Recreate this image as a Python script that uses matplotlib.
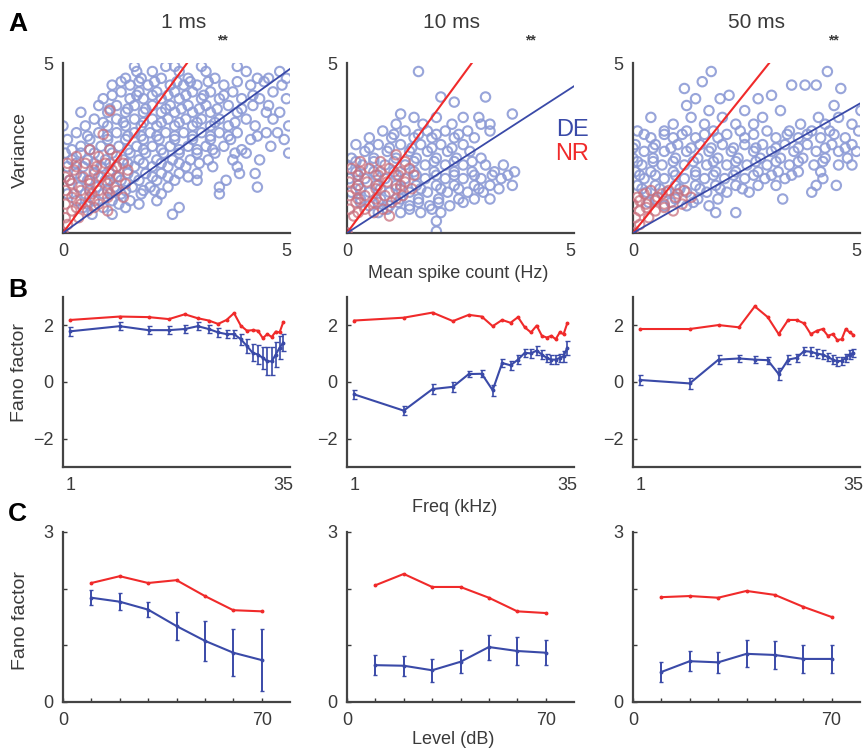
import matplotlib.pyplot as plt
import numpy as np

plt.rcParams["font.family"] = ["Liberation Sans", "DejaVu Sans"]

TXT = "#3a3a3a"
DE_COL = "#3a4aa8"
NR_COL = "#f02a2a"
DE_PT = "#8d9bd6"
NR_PT = "#c9707e"

# ---------- row A: variance vs mean spike count (by rows) ----------
a1_de_rows = [
    (4.9, [1.6, 2.3, 2.5, 3.1, 3.9]),
    (4.75, [1.65, 2.0, 2.6, 3.2, 4.1, 4.85]),
    (4.55, [1.4, 1.75, 2.2, 2.8, 3.4, 4.35, 4.6, 5.0]),
    (4.45, [1.3, 1.7, 2.05, 2.55, 2.85, 3.25, 3.9, 4.5]),
    (4.35, [1.1, 1.5, 1.9, 2.4, 2.7, 3.0, 3.6, 4.2, 4.9]),
    (4.15, [1.3, 1.7, 2.1, 2.5, 2.9, 3.3, 3.8, 4.7]),
    (4.05, [1.1, 1.65, 2.0, 2.35, 2.75, 3.15, 3.6, 4.25]),
    (3.95, [0.9, 1.5, 1.8, 2.2, 2.6, 3.1, 3.5, 4.0, 4.4, 5.0]),
    (3.75, [0.8, 1.2, 1.6, 2.0, 2.4, 2.8, 3.2, 3.7, 4.25, 4.6]),
    (3.65, [1.05, 1.45, 1.85, 2.3, 2.65, 3.05, 3.45, 4.0]),
    (3.55, [0.4, 1.0, 1.4, 1.8, 2.2, 2.5, 2.9, 3.3, 3.9, 4.55, 4.85]),
    (3.35, [0.7, 1.2, 1.6, 2.0, 2.35, 2.75, 3.1, 3.5, 4.1, 4.7]),
    (3.25, [0.9, 1.35, 1.8, 2.2, 2.6, 3.0, 3.4, 3.85]),
    (3.15, [0.0, 0.5, 1.0, 1.4, 1.75, 2.1, 2.5, 2.9, 3.3, 3.7, 4.3, 5.05]),
    (2.95, [0.3, 0.8, 1.2, 1.6, 1.95, 2.3, 2.7, 3.1, 3.5, 3.9, 4.55, 4.8]),
    (2.85, [0.55, 1.0, 1.45, 1.75, 2.1, 2.5, 2.9, 3.3, 3.7, 4.35]),
    (2.75, [0.1, 0.6, 1.0, 1.4, 1.8, 2.15, 2.5, 2.9, 3.3, 3.75, 4.2, 4.95]),
    (2.55, [0.4, 0.85, 1.25, 1.65, 2.0, 2.4, 2.8, 3.2, 3.6, 4.65]),
    (2.45, [0.2, 0.6, 1.05, 1.45, 1.8, 2.2, 2.6, 3.0, 3.35, 4.0]),
    (2.35, [0.05, 0.4, 0.7, 1.1, 1.5, 1.85, 2.25, 2.6, 3.0, 3.4, 3.85, 4.1, 5.05]),
    (2.15, [0.2, 0.55, 0.95, 1.35, 1.7, 2.1, 2.45, 2.85, 3.25, 3.8, 4.4]),
    (2.05, [0.3, 0.7, 1.05, 1.45, 1.8, 2.2, 2.6, 3.05]),
    (1.95, [0.1, 0.45, 0.85, 1.2, 1.6, 2.0, 2.35, 2.75, 3.35, 3.9]),
    (1.75, [0.3, 0.7, 1.05, 1.45, 1.85, 2.2, 2.6, 3.0, 3.95, 4.3]),
    (1.65, [0.4, 0.8, 1.2, 1.6, 2.0, 2.35, 2.8]),
    (1.55, [0.15, 0.55, 0.95, 1.3, 1.7, 2.1, 2.5, 3.0, 3.65]),
    (1.35, [0.35, 0.75, 1.15, 1.55, 1.95, 2.35, 3.5, 4.35]),
    (1.25, [0.6, 1.0, 1.4, 1.8, 2.05]),
    (1.15, [0.1, 0.5, 0.9, 1.3, 1.75, 2.2, 3.5]),
    (0.95, [0.3, 0.7, 1.1, 1.5, 2.1]),
    (0.85, [0.55, 1.25, 1.7]),
    (0.75, [0.45, 0.9, 1.4, 2.6]),
    (0.55, [0.65, 1.1, 2.45]),
    (0.0, [0.0]),
]
a1_nr_rows = [
    (3.6, [1.05]),
    (2.9, [0.9]),
    (2.45, [0.6, 1.05]),
    (2.25, [0.3, 0.8, 1.2]),
    (2.05, [0.1, 0.5, 0.95, 1.35]),
    (1.95, [0.3, 0.75, 1.2]),
    (1.85, [0.25, 0.7, 1.1, 1.45]),
    (1.65, [0.05, 0.45, 0.85, 1.25]),
    (1.55, [0.15, 0.6, 1.05]),
    (1.45, [0.2, 0.6, 1.0, 1.4]),
    (1.25, [0.05, 0.4, 0.8, 1.2]),
    (1.15, [0.25, 0.65, 1.05]),
    (1.05, [0.2, 0.6, 1.0, 1.35]),
    (0.85, [0.05, 0.4, 0.8]),
    (0.75, [0.3, 0.7]),
    (0.65, [0.2, 0.55, 1.0]),
    (0.45, [0.05, 0.35]),
    (0.25, [0.1]),
    (0.0, [0.0]),
]
a2_de_rows = [
    (4.75, [1.6]),
    (4.0, [2.1, 3.1]),
    (3.85, [2.4]),
    (3.5, [1.2, 3.7]),
    (3.4, [1.5, 2.0, 2.6, 2.95]),
    (3.2, [1.1, 1.7, 2.35, 3.0, 3.2]),
    (3.0, [0.8, 1.3, 1.8, 2.2, 2.7, 3.2]),
    (2.9, [1.05, 1.6, 2.0, 2.5]),
    (2.8, [0.5, 1.0, 1.5, 1.9, 2.4, 2.85]),
    (2.6, [0.2, 0.7, 1.2, 1.65, 2.1, 2.6]),
    (2.5, [0.5, 0.95, 1.45, 1.9, 2.35]),
    (2.4, [0.4, 0.9, 1.4, 1.8, 2.25, 2.75]),
    (2.2, [0.1, 0.6, 1.1, 1.55, 2.0, 2.45, 3.0]),
    (2.1, [0.2, 0.6, 1.05, 1.5, 1.95, 2.4, 2.8]),
    (2.0, [0.0, 0.35, 0.85, 1.3, 1.75, 2.2, 2.6, 3.1, 3.5]),
    (1.8, [0.2, 0.6, 1.05, 1.5, 1.95, 2.4, 2.8, 3.3, 3.75]),
    (1.7, [0.25, 0.65, 1.1, 1.55, 2.0, 2.4, 2.85, 3.25, 3.6]),
    (1.6, [0.05, 0.4, 0.85, 1.3, 1.75, 2.2, 2.6, 3.0, 3.45]),
    (1.4, [0.25, 0.65, 1.1, 1.55, 2.0, 2.4, 2.85, 3.2, 3.7]),
    (1.3, [0.3, 0.75, 1.2, 1.65, 2.1, 2.5, 2.95, 3.4]),
    (1.2, [0.1, 0.5, 0.95, 1.4, 1.8, 2.25, 2.7, 3.05]),
    (1.0, [0.3, 0.75, 1.2, 1.6, 2.05, 2.5, 2.85, 3.2]),
    (0.9, [0.3, 0.7, 1.15, 1.6, 2.05, 2.6]),
    (0.8, [0.5, 0.95, 1.4, 1.85, 2.3]),
    (0.7, [0.9, 1.4, 1.9]),
    (0.6, [0.7, 1.2, 1.65, 2.1]),
    (0.35, [2.0]),
    (0.05, [2.0]),
    (0.0, [0.0]),
]
a2_nr_rows = [
    (2.3, [1.1]),
    (2.1, [0.3, 0.75, 1.3]),
    (1.9, [0.1, 0.5, 0.95, 1.4]),
    (1.8, [0.3, 0.75, 1.2]),
    (1.7, [0.25, 0.7, 1.15, 1.5]),
    (1.5, [0.05, 0.45, 0.9, 1.3]),
    (1.4, [0.25, 0.7, 1.2]),
    (1.3, [0.2, 0.65, 1.1, 1.45]),
    (1.1, [0.05, 0.4, 0.85, 1.25]),
    (1.0, [0.25, 0.65, 1.1]),
    (0.9, [0.2, 0.6, 1.0]),
    (0.7, [0.05, 0.4, 0.8]),
    (0.6, [0.25, 0.6]),
    (0.5, [0.15, 0.95]),
    (0.0, [0.0]),
]
a3_de_rows = [
    (4.75, [1.75, 4.35]),
    (4.45, [1.55]),
    (4.35, [3.55, 3.85, 4.1]),
    (4.25, [1.15, 4.65]),
    (4.05, [2.15, 3.1]),
    (3.95, [1.4, 1.95, 2.8]),
    (3.75, [1.2, 4.5]),
    (3.6, [1.7, 2.5, 3.3, 5.1]),
    (3.4, [0.4, 1.3, 2.0, 2.9, 4.15, 4.6]),
    (3.2, [0.9, 1.6, 2.3, 2.7, 3.75, 4.3, 4.9]),
    (3.0, [0.1, 0.7, 1.2, 1.8, 2.4, 3.0, 3.5, 4.0, 4.4, 5.05]),
    (2.9, [0.25, 0.7, 1.1, 1.6, 2.1, 2.7, 3.45, 3.9, 4.5]),
    (2.8, [0.4, 0.9, 1.4, 1.9, 2.5, 3.2, 3.7, 4.2, 4.75]),
    (2.6, [0.05, 0.5, 1.0, 1.5, 2.0, 2.5, 2.9, 3.4, 3.9, 4.45, 4.9]),
    (2.5, [0.0, 0.45, 0.85, 1.3, 1.75, 2.25, 2.75, 3.2, 3.7, 4.3, 4.75]),
    (2.4, [0.25, 0.7, 1.2, 1.7, 2.2, 2.7, 3.1, 3.6, 4.1, 4.6, 5.0]),
    (2.2, [0.0, 0.45, 0.95, 1.45, 1.9, 2.35, 2.85, 3.3, 3.8, 4.3, 4.8]),
    (2.1, [0.1, 0.45, 0.9, 1.35, 1.8, 2.3, 2.75, 3.2, 3.7, 4.25]),
    (2.0, [0.2, 0.65, 1.15, 1.65, 2.1, 2.55, 3.0, 3.5, 4.05, 4.6, 4.9]),
    (1.8, [0.05, 0.4, 0.9, 1.4, 1.85, 2.3, 2.8, 3.25, 3.7, 4.2]),
    (1.7, [0.15, 0.5, 0.95, 1.4, 1.8, 2.25, 2.7, 3.1, 3.55]),
    (1.6, [0.25, 0.7, 1.15, 1.6, 2.05, 2.5, 2.95, 3.4, 4.25]),
    (1.4, [0.1, 0.5, 0.95, 1.4, 1.85, 2.3, 2.8, 3.2, 4.1, 4.55]),
    (1.3, [0.2, 0.6, 1.05, 1.5, 1.95, 2.45]),
    (1.2, [0.3, 0.75, 1.2, 1.65, 2.1, 2.6, 4.0]),
    (1.0, [0.5, 0.95, 1.45, 1.9, 3.35]),
    (0.9, [0.35, 0.85, 1.35]),
    (0.8, [0.7, 1.2, 1.7]),
    (0.6, [1.85, 2.3]),
    (0.0, [0.0]),
]
a3_nr_rows = [
    (1.25, [0.4, 0.8, 1.15]),
    (1.15, [0.25, 0.65, 1.0]),
    (1.05, [0.1, 0.55, 0.95, 1.3]),
    (0.95, [0.15, 0.5]),
    (0.85, [0.0, 0.3, 0.7, 1.1]),
    (0.75, [0.3, 0.7]),
    (0.65, [0.15, 0.5, 0.9]),
    (0.45, [0.05, 0.35]),
    (0.25, [0.15]),
    (0.0, [0.0]),
]
fit_slope_de = [0.95, 0.85, 0.75]
fit_slope_nr = [1.8, 1.79, 1.64]
bin_titles = ["1 ms", "10 ms", "50 ms"]

# ---------- row B: Fano factor vs frequency ----------
freq_idx = list(range(1, 21))
freq_tick_labels = ["1", "35"]
b_nr = [
    [2.19, 2.31, 2.29, 2.22, 2.39, 2.25, 2.17, 2.05, 2.19, 2.43,
     1.99, 1.81, 1.83, 1.81, 1.55, 1.69, 1.59, 1.78, 1.75, 2.11],
    [2.17, 2.27, 2.45, 2.15, 2.37, 2.31, 1.97, 2.19, 2.09, 2.29,
     1.93, 1.75, 1.99, 1.63, 1.57, 1.63, 1.51, 1.75, 1.69, 2.07],
    [1.87, 1.87, 2.01, 1.93, 2.67, 2.29, 1.69, 2.19, 2.19, 2.07,
     1.69, 1.81, 1.87, 1.63, 1.69, 1.48, 1.51, 1.87, 1.75, 1.67],
]
b_de = [
    [1.79, 1.97, 1.83, 1.83, 1.87, 1.97, 1.87, 1.75, 1.69, 1.69,
     1.51, 1.27, 1.03, 0.97, 0.85, 0.73, 0.73, 0.97, 1.21, 1.39],
    [-0.44, -1.01, -0.25, -0.17, 0.28, 0.29, -0.29, 0.67, 0.59, 0.79,
     1.03, 1.01, 1.11, 0.97, 0.85, 0.79, 0.79, 0.85, 0.91, 1.21],
    [0.07, -0.05, 0.79, 0.83, 0.79, 0.77, 0.28, 0.79, 0.85, 1.09,
     1.07, 1.0, 0.97, 0.88, 0.79, 0.73, 0.75, 0.85, 0.97, 1.03],
]
b_de_err = [
    [0.15, 0.15, 0.15, 0.15, 0.15, 0.15, 0.15, 0.15, 0.15, 0.15,
     0.2, 0.25, 0.3, 0.35, 0.4, 0.5, 0.5, 0.45, 0.4, 0.3],
    [0.17, 0.15, 0.17, 0.17, 0.12, 0.12, 0.2, 0.15, 0.15, 0.15,
     0.15, 0.15, 0.15, 0.15, 0.15, 0.15, 0.15, 0.15, 0.2, 0.25],
    [0.17, 0.2, 0.15, 0.12, 0.12, 0.12, 0.2, 0.15, 0.15, 0.15,
     0.15, 0.15, 0.15, 0.15, 0.15, 0.15, 0.15, 0.15, 0.15, 0.15],
]

# ---------- row C: Fano factor vs level ----------
level_db = [10, 20, 30, 40, 50, 60, 70]
c_nr = [
    [2.1, 2.22, 2.1, 2.15, 1.87, 1.62, 1.6],
    [2.06, 2.26, 2.03, 2.03, 1.84, 1.6, 1.57],
    [1.85, 1.87, 1.84, 1.96, 1.89, 1.68, 1.5],
]
c_de = [
    [1.84, 1.77, 1.63, 1.34, 1.08, 0.87, 0.74],
    [0.65, 0.64, 0.56, 0.71, 0.97, 0.9, 0.87],
    [0.53, 0.72, 0.7, 0.85, 0.83, 0.76, 0.76],
]
c_de_err = [
    [0.13, 0.15, 0.13, 0.25, 0.35, 0.41, 0.55],
    [0.18, 0.18, 0.2, 0.2, 0.22, 0.24, 0.22],
    [0.18, 0.18, 0.18, 0.24, 0.24, 0.25, 0.24],
]


def expand(rows):
    xs, ys = [], []
    for y, xlist in rows:
        for x in xlist:
            xs.append(x)
            ys.append(y)
    return np.array(xs), np.array(ys)


def style(ax):
    for s in ["top", "right"]:
        ax.spines[s].set_visible(False)
    for s in ["left", "bottom"]:
        ax.spines[s].set_color("#444444")
        ax.spines[s].set_linewidth(1.6)
    ax.tick_params(colors=TXT, labelsize=13, direction="in", length=3, width=1, pad=7)
    for lab in ax.get_xticklabels() + ax.get_yticklabels():
        lab.set_color(TXT)


W, H = 868, 751
fig = plt.figure(figsize=(8.68, 7.51), dpi=100)
lefts = [63, 347, 633]
width = 227
tops = [63, 297, 532]
height = 170


def make_ax(col, row):
    return fig.add_axes([lefts[col] / W, 1 - (tops[row] + height) / H, width / W, height / H])


de_sets = [a1_de_rows, a2_de_rows, a3_de_rows]
nr_sets = [a1_nr_rows, a2_nr_rows, a3_nr_rows]
for i in range(3):
    ax = make_ax(i, 0)
    dx, dy = expand(de_sets[i])
    nx, ny = expand(nr_sets[i])
    ax.scatter(dx, dy, s=46, facecolors="none", edgecolors=DE_PT, linewidths=1.5, alpha=0.9, zorder=2)
    ax.scatter(nx, ny, s=46, facecolors="none", edgecolors=NR_PT, linewidths=1.5, alpha=0.75, zorder=3)
    xl = np.array([0, 5.1])
    ax.plot(xl, fit_slope_nr[i] * xl, color=NR_COL, lw=1.5, zorder=4)
    ax.plot(xl, fit_slope_de[i] * xl, color=DE_COL, lw=1.3, zorder=4)
    ax.set_xlim(0, 5.08)
    ax.set_ylim(0, 5)
    ax.set_xticks([0, 5])
    ax.set_yticks([5])
    style(ax)
    ax.tick_params(length=0)
    ax.set_xticklabels(["0", "5"])

for i in range(3):
    ax = make_ax(i, 1)
    ax.plot(freq_idx, b_nr[i], color=NR_COL, lw=1.5, marker="o", ms=1.8)
    ax.errorbar(freq_idx, b_de[i], yerr=b_de_err[i], color=DE_COL, lw=1.5,
                marker="o", ms=1.8, capsize=1.8, elinewidth=1.2)
    ax.set_xscale("log")
    ax.set_xlim(0.9, 22)
    ax.set_ylim(-3, 3)
    ax.set_yticks([-2, 0, 2])
    ax.set_yticklabels(["\u22122", "0", "2"])
    ax.set_xticks([freq_idx[0], freq_idx[-1]])
    ax.set_xticklabels(freq_tick_labels)
    ax.minorticks_off()
    style(ax)
    ax.tick_params(axis="x", length=0)

for i in range(3):
    ax = make_ax(i, 2)
    ax.plot(level_db, c_nr[i], color=NR_COL, lw=1.5, marker="o", ms=1.8)
    ax.errorbar(level_db, c_de[i], yerr=c_de_err[i], color=DE_COL, lw=1.5,
                marker="o", ms=1.8, capsize=1.5, elinewidth=1.4)
    ax.set_xlim(0, 80)
    ax.set_ylim(0, 3)
    ax.set_xticks([0, 10, 20, 30, 40, 50, 60, 70])
    ax.set_xticklabels(["0", "", "", "", "", "", "", "70"])
    ax.set_yticks([0, 1, 2, 3])
    ax.set_yticklabels(["0", "", "", "3"])
    style(ax)


def ftext(x, y, s, **kw):
    kw.setdefault("color", TXT)
    fig.text(x / W, 1 - y / H, s, ha="center", va="center", **kw)


title_x = [184, 452, 757]
star_x = [222, 530, 833]
for i in range(3):
    ftext(title_x[i], 23, bin_titles[i], fontsize=15)
    ftext(star_x[i], 40, "**", fontsize=10, fontweight="bold")

ftext(18, 24, "A", fontsize=19, fontweight="bold", color="black")
ftext(18, 290, "B", fontsize=19, fontweight="bold", color="black")
ftext(17, 514, "C", fontsize=19, fontweight="bold", color="black")

ftext(20, 150, "Variance", fontsize=14, rotation=90)
ftext(20, 372, "Fano factor", fontsize=14, rotation=90)
ftext(21, 620, "Fano factor", fontsize=14, rotation=90)
ftext(458, 273, "Mean spike count (Hz)", fontsize=13)
ftext(455, 508, "Freq (kHz)", fontsize=13)
ftext(453, 739, "Level (dB)", fontsize=13)

ftext(572, 130, "DE", fontsize=17, color=DE_COL)
ftext(572, 154, "NR", fontsize=17, color=NR_COL)

fig.savefig("out.png", dpi=100)
